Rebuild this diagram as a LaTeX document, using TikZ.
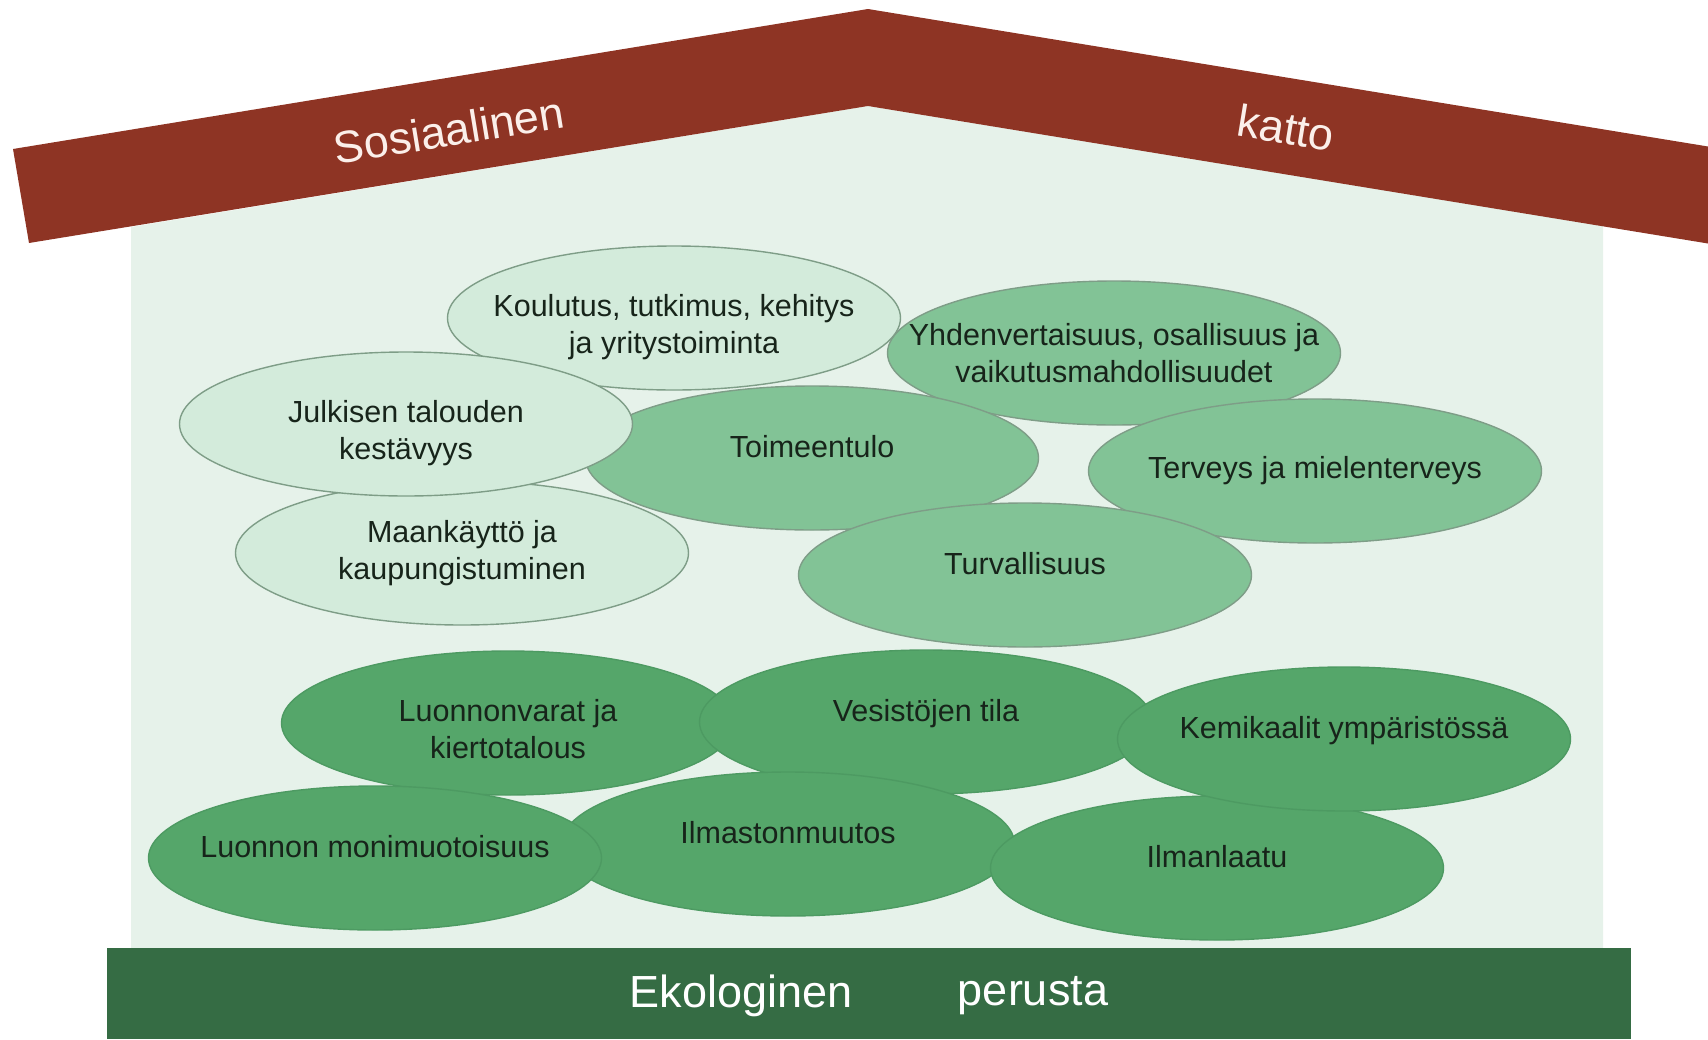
\documentclass[tikz,border=0pt]{standalone}
\usepackage{fontspec}
\setmainfont{Liberation Sans}
\usepackage{xcolor}
\usetikzlibrary{shapes.geometric}

\definecolor{roofred}{HTML}{8E3424}
\definecolor{wallmint}{HTML}{E6F2EA}
\definecolor{basegreen}{HTML}{356C44}
\definecolor{palegreen}{HTML}{D3EBDB}
\definecolor{midgreen}{HTML}{82C396}
\definecolor{ecogreen}{HTML}{55A66A}
\definecolor{rimgrey}{HTML}{7E9D87}
\definecolor{rimgreen}{HTML}{4D9A62}
\definecolor{inkgreen}{HTML}{17241A}
\definecolor{rooftext}{HTML}{FBEFEA}

\begin{document}
\begin{tikzpicture}[
    x=1pt, y=-1pt,
    bubble/.style={ellipse, minimum width=453pt, minimum height=144pt, inner xsep=-60pt, inner ysep=0pt, align=center, text=inkgreen, line width=1.4pt, font=\fontsize{30.5}{37}\selectfont},
    palebub/.style={bubble, draw=rimgrey, fill=palegreen},
    midbub/.style={bubble, draw=rimgrey, fill=midgreen},
    ecobub/.style={bubble, draw=rimgreen, fill=ecogreen},
    lift/.style={text height=22pt, text depth=24pt},
    sink/.style={text height=#1},
    rooftxt/.style={text=rooftext, font=\fontsize{45}{50}\selectfont},
    basetxt/.style={text=white, font=\fontsize{45}{50}\selectfont}
]
    \useasboundingbox (0,0) rectangle (1708,1039);

    % house
    \fill[wallmint] (131,948) -- (131,227) -- (868,106) -- (1603,226) -- (1603,948) -- cycle;
    \fill[roofred] (13,149) -- (868,9) -- (1708,146.5) -- (1708,243.5) -- (868,106) -- (29,243) -- cycle;
    \fill[basegreen] (107,948) rectangle (1631,1039);

    \node[rooftxt, rotate=9.3] (sos) at (449,130) {Sosiaalinen};
    \node[rooftxt, rotate=-9.3] (katto) at (1286,128) {katto};

    % social themes
    \node[midbub] (yhd) at (1114,353) {Yhdenvertaisuus, osallisuus ja\\vaikutusmahdollisuudet};
    \node[palebub, sink=78pt] (koul) at (674,318) {Koulutus, tutkimus, kehitys\\ja yritystoiminta};
    \node[midbub, lift] (toim) at (812,458) {Toimeentulo};
    \node[midbub] (terv) at (1315,471) {Terveys ja mielenterveys};
    \node[midbub, lift] (turva) at (1025,575) {Turvallisuus};
    \node[palebub] (maank) at (462,553) {Maankäyttö ja\\kaupungistuminen};
    \node[palebub, sink=78pt] (julk) at (406,424) {Julkisen talouden\\kestävyys};

    % ecological themes
    \node[ecobub, sink=72pt] (luonv) at (508,723) {Luonnonvarat ja\\kiertotalous};
    \node[ecobub, lift] (vesi) at (926,722) {Vesistöjen tila};
    \node[ecobub, lift] (ilmasto) at (788,844) {Ilmastonmuutos};
    \node[ecobub, lift] (monim) at (375,858) {Luonnon monimuotoisuus};
    \node[ecobub, lift] (ilmanl) at (1217,868) {Ilmanlaatu};
    \node[ecobub, lift] (kemi) at (1344,739) {Kemikaalit ympäristössä};

    \node[basetxt] (eko) at (741,996) {Ekologinen};
    \node[basetxt] (perusta) at (1033,996) {perusta};
\end{tikzpicture}
\end{document}
